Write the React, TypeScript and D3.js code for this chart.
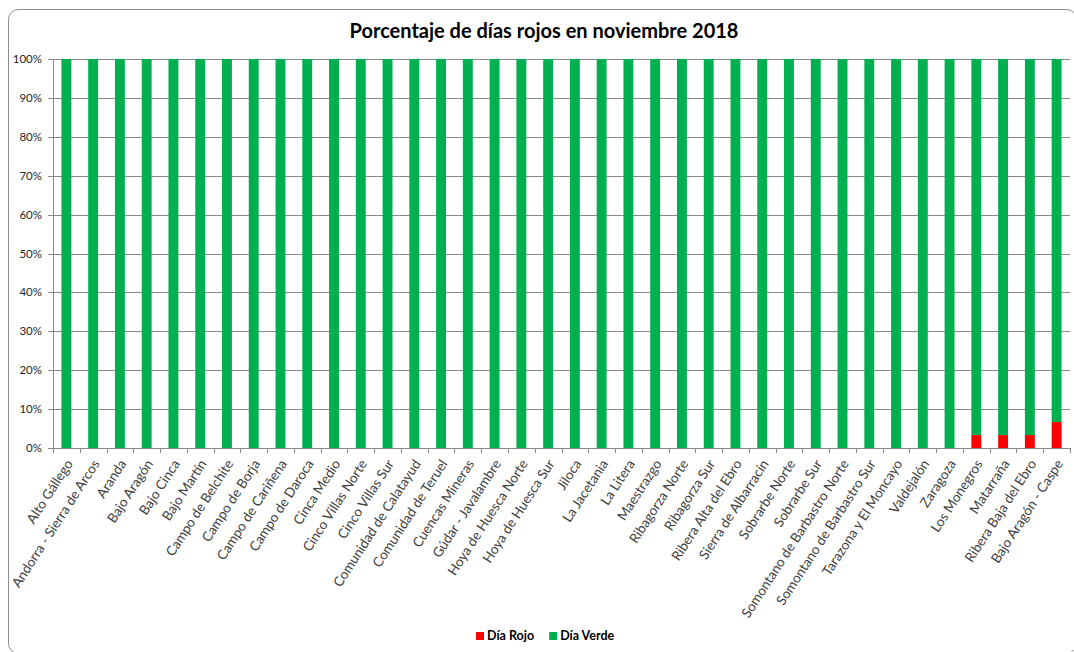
import { useEffect, useRef } from 'react';
import * as d3 from 'd3';

const comarcas = [
  'Alto Gállego', 'Andorra - Sierra de Arcos', 'Aranda', 'Bajo Aragón', 'Bajo Cinca', 'Bajo Martín',
  'Campo de Belchite', 'Campo de Borja', 'Campo de Cariñena', 'Campo de Daroca', 'Cinca Medio',
  'Cinco Villas Norte', 'Cinco Villas Sur', 'Comunidad de Calatayud', 'Comunidad de Teruel',
  'Cuencas Mineras', 'Gúdar - Javalambre', 'Hoya de Huesca Norte', 'Hoya de Huesca Sur', 'Jiloca',
  'La Jacetania', 'La Litera', 'Maestrazgo', 'Ribagorza Norte', 'Ribagorza Sur', 'Ribera Alta del Ebro',
  'Sierra de Albarracín', 'Sobrarbe Norte', 'Sobrarbe Sur', 'Somontano de Barbastro Norte',
  'Somontano de Barbastro Sur', 'Tarazona y El Moncayo', 'Valdejalón', 'Zaragoza', 'Los Monegros',
  'Matarraña', 'Ribera Baja del Ebro', 'Bajo Aragón - Caspe',
];
// share of red days (noviembre: 30 días)
const diaRojo = [
  0, 0, 0, 0, 0, 0, 0, 0, 0, 0, 0, 0, 0, 0, 0, 0, 0, 0, 0, 0, 0, 0, 0, 0, 0, 0, 0, 0, 0, 0, 0, 0, 0, 0,
  0.0333, 0.0333, 0.0333, 0.0667,
];
const diaVerde = diaRojo.map(v => 1 - v);
const yTicks = [0, 0.1, 0.2, 0.3, 0.4, 0.5, 0.6, 0.7, 0.8, 0.9, 1];
const series = [
  { key: 'rojo', name: 'Día Rojo', color: '#ff0000' },
  { key: 'verde', name: 'Día Verde', color: '#00b050' },
];

const W = 1074, H = 652;
const PAD = { l: 53, r: 4, t: 59, b: 204 };
const FONT = 'Lato, "Open Sans", sans-serif';

export default function App() {
  const svgRef = useRef<SVGSVGElement>(null);

  useEffect(() => {
    if (!svgRef.current) return;
    const svg = d3.select(svgRef.current);
    svg.selectAll('*').remove();

    const rows = comarcas.map((c, i) => ({ c, rojo: diaRojo[i], verde: diaVerde[i] }));
    const x = d3.scaleBand<string>().domain(comarcas).range([PAD.l, W - PAD.r]).paddingInner(0.63).paddingOuter(0.315);
    const y = d3.scaleLinear().domain([0, 1]).range([H - PAD.b, PAD.t]);

    // chart frame
    svg.append('rect')
      .attr('x', 8.5).attr('y', 9.5).attr('width', W - 6).attr('height', H - 8)
      .attr('rx', 10).attr('fill', '#fff').attr('stroke', '#8c8c8c').attr('stroke-width', 1);

    svg.append('text')
      .attr('x', 544).attr('y', 38).attr('text-anchor', 'middle')
      .attr('font-family', FONT).attr('font-weight', 700).attr('font-size', 20).attr('fill', '#000')
      .text('Porcentaje de días rojos en noviembre 2018');

    // gridlines + y labels
    yTicks.forEach(t => {
      svg.append('line')
        .attr('x1', PAD.l - 5).attr('x2', W - PAD.r)
        .attr('y1', Math.round(y(t)) + 0.5).attr('y2', Math.round(y(t)) + 0.5)
        .attr('stroke', '#8a8a8a').attr('stroke-width', 1);
      svg.append('text')
        .attr('x', PAD.l - 11).attr('y', y(t)).attr('dy', '0.35em')
        .attr('text-anchor', 'end').attr('font-family', FONT).attr('font-size', 11.5).attr('fill', '#262626')
        .text(d3.format('.0%')(t));
    });

    // stacked bars
    const stack = d3.stack<typeof rows[0]>().keys(series.map(s => s.key));
    const layers = stack(rows as any);
    layers.forEach((layer, li) => {
      svg.append('g').selectAll('rect').data(layer).join('rect')
        .attr('x', (_, i) => x(comarcas[i])!)
        .attr('width', x.bandwidth())
        .attr('y', d => y(d[1]))
        .attr('height', d => y(d[0]) - y(d[1]))
        .attr('fill', series[li].color);
    });

    // axes lines
    svg.append('line')
      .attr('x1', PAD.l + 0.5).attr('x2', PAD.l + 0.5).attr('y1', y(1)).attr('y2', y(0))
      .attr('stroke', '#8a8a8a');
    svg.append('line')
      .attr('x1', PAD.l).attr('x2', W - PAD.r).attr('y1', Math.round(y(0)) + 0.5).attr('y2', Math.round(y(0)) + 0.5)
      .attr('stroke', '#8a8a8a');
    const step = x.step();
    d3.range(comarcas.length + 1).forEach(i => {
      const tx = Math.round(PAD.l + i * step) + 0.5;
      svg.append('line')
        .attr('x1', tx).attr('x2', tx).attr('y1', y(0)).attr('y2', y(0) + 5)
        .attr('stroke', '#8a8a8a');
    });

    // category labels
    comarcas.forEach(c => {
      const cx = x(c)! + x.bandwidth() / 2;
      svg.append('text')
        .attr('transform', `translate(${cx + 3},${y(0) + 13}) rotate(-57)`)
        .attr('text-anchor', 'end').attr('dy', '0.35em')
        .attr('font-family', FONT).attr('font-size', 13.5).attr('fill', '#404040')
        .text(c);
    });

    // legend
    const lg = svg.append('g').attr('transform', 'translate(476,632)');
    let lx = 0;
    series.forEach(s => {
      lg.append('rect').attr('x', lx).attr('y', 0).attr('width', 8).attr('height', 8).attr('fill', s.color);
      const t = lg.append('text')
        .attr('x', lx + 11).attr('y', 4).attr('dy', '0.35em')
        .attr('font-family', FONT).attr('font-weight', 700).attr('font-size', 12.5).attr('fill', '#000')
        .text(s.name);
      lx += 11 + (t.node() as SVGTextElement).getComputedTextLength() + 15;
    });
  }, []);

  return (
    <svg ref={svgRef} width={W} height={H}
      style={{ position: 'absolute', left: 0, top: 0, display: 'block', background: '#fff' }} />
  );
}
